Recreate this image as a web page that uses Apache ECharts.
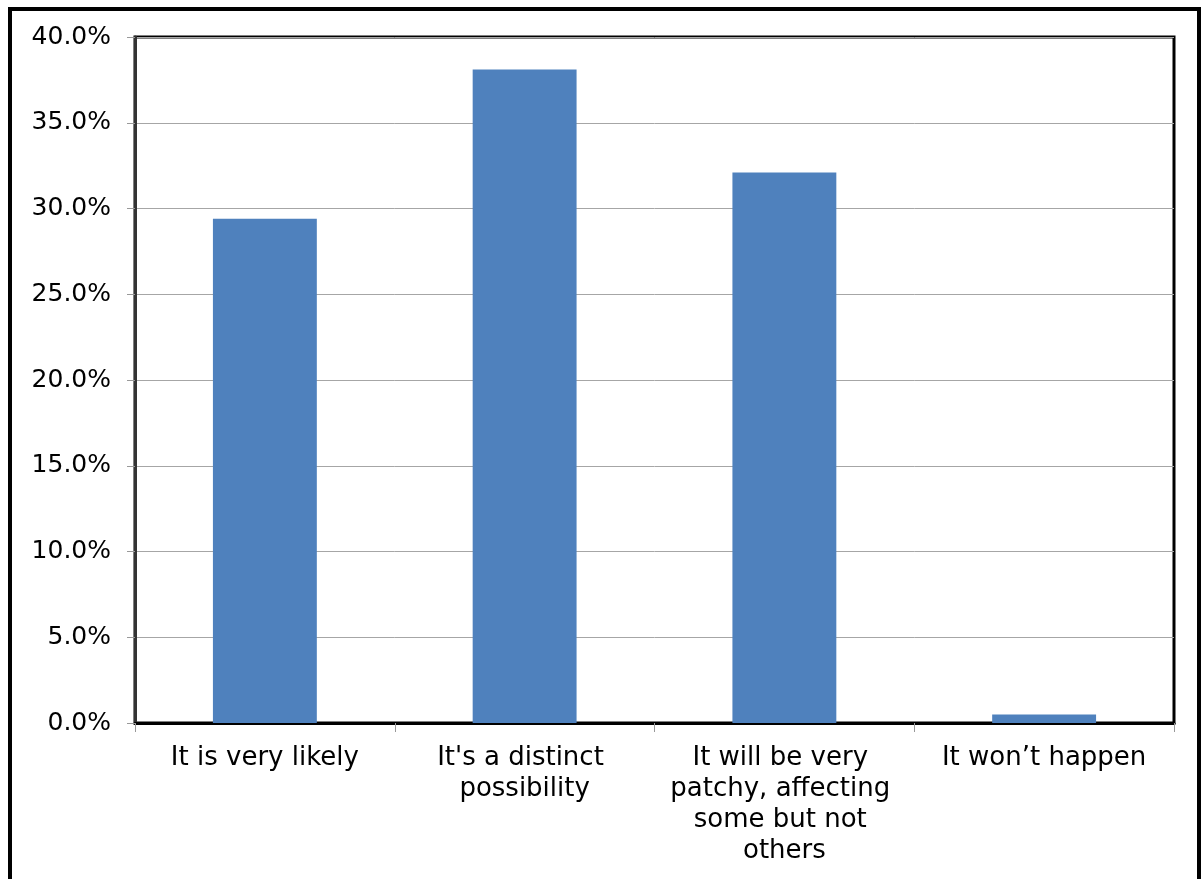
<!DOCTYPE html>
<html>
<head>
<meta charset="utf-8">
<script src="https://cdn.jsdelivr.net/npm/echarts@6/dist/echarts.min.js"></script>
<style>
  html, body { margin: 0; padding: 0; background: #fff; }
  #chart { width: 1202px; height: 879px; }
</style>
</head>
<body>
<div id="chart"></div>
<script>
// Survey responses, share of respondents (%)
const categories = [
  'It is very likely',
  "It's a distinct possibility",
  'It will be very patchy, affecting some but not others',
  'It won\u2019t happen'
];
const shares = [29.4, 38.1, 32.1, 0.5];

const yMin = 0;
const yMax = 40;
const yStep = 5;

const chart = echarts.init(document.getElementById('chart'), null, { renderer: 'canvas' });
const font = '"DejaVu Sans", Verdana, sans-serif';

chart.setOption({
  animation: false,
  backgroundColor: '#ffffff',
  graphic: [
    {
      // outer frame (open at the bottom edge of the page)
      type: 'rect',
      shape: { x: 10, y: 9, width: 1189, height: 920 },
      style: { fill: 'none', stroke: '#000', lineWidth: 4 },
      z: 100
    }
  ],
  grid: {
    left: 135,
    top: 37,
    right: 28,
    bottom: 156,
    show: true,
    borderColor: '#000',
    borderWidth: 3,
    containLabel: false
  },
  xAxis: {
    type: 'category',
    data: categories,
    boundaryGap: true,
    axisLine: { show: true, lineStyle: { color: '#000', width: 3 } },
    axisTick: { show: true, alignWithLabel: false, length: 9, lineStyle: { color: '#999', width: 1 } },
    axisLabel: {
      color: '#000',
      fontFamily: font,
      fontSize: 26,
      lineHeight: 31,
      margin: 20,
      width: 232,
      overflow: 'break',
      interval: 0,
      align: 'center'
    },
    splitLine: { show: false }
  },
  yAxis: {
    type: 'value',
    min: yMin,
    max: yMax,
    interval: yStep,
    axisLine: { show: true, lineStyle: { color: '#333', width: 3 } },
    axisTick: { show: true, length: 8, lineStyle: { color: '#999', width: 1 } },
    axisLabel: {
      color: '#000',
      fontFamily: font,
      fontSize: 25,
      margin: 24,
      formatter: v => v.toFixed(1) + '%'
    },
    splitLine: { show: true, lineStyle: { color: '#a6a6a6', width: 1 } }
  },
  series: [
    {
      type: 'bar',
      data: shares,
      barWidth: '40%',
      itemStyle: { color: '#4F81BD' },
      z: 2
    }
  ]
});
</script>
</body>
</html>
